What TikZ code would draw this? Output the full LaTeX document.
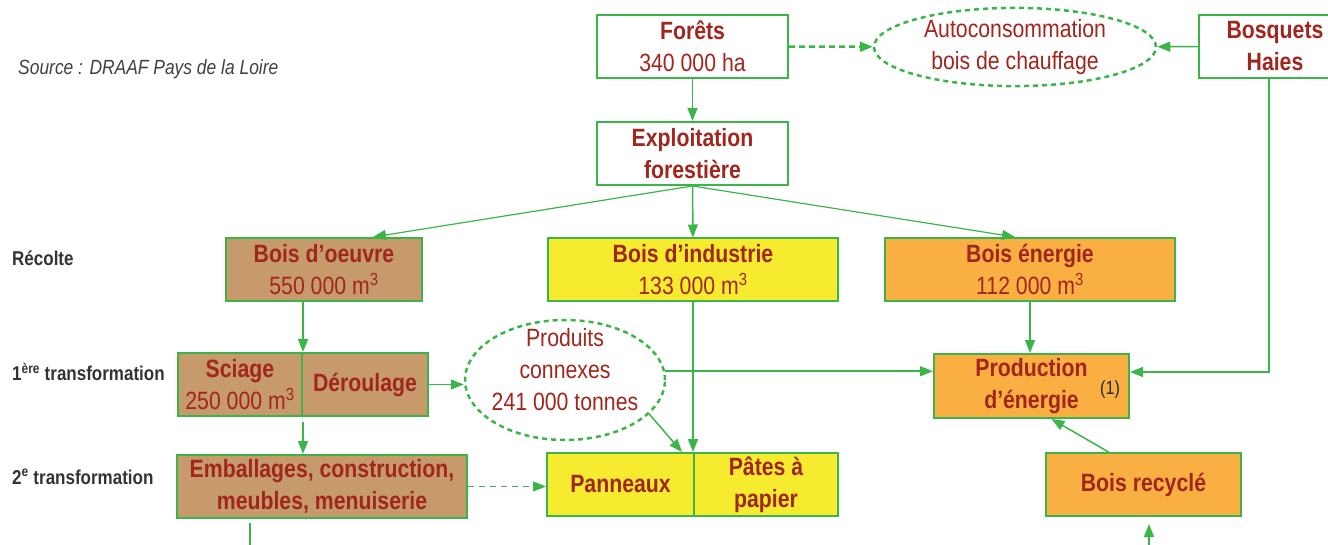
\documentclass[tikz,border=0pt]{standalone}
\usepackage{fontspec}
\setmainfont{Liberation Sans}[FakeStretch=0.85]
\usetikzlibrary{arrows.meta,shapes.geometric}
\definecolor{vert}{HTML}{3BB54A}
\definecolor{brique}{HTML}{A1261D}
\definecolor{bois}{HTML}{C69A6B}
\definecolor{jaune}{HTML}{F7EB2F}
\definecolor{orangeE}{HTML}{F9AF41}
\def\Gros{\fontsize{25}{32}\selectfont}

\begin{document}
\begin{tikzpicture}[x=1pt,y=-1pt,
  boite/.style={draw=vert,line width=2pt,inner sep=0pt,align=center,text=brique,minimum height=63pt,font=\Gros},
  bulle/.style={ellipse,draw=vert,line width=2.5pt,dash pattern=on 5pt off 4pt,inner sep=0pt,align=center,text=brique,font=\Gros},
  etape/.style={anchor=west,inner sep=0pt,text=black!80,font=\fontsize{20}{24}\selectfont\bfseries},
  fl/.style={draw=vert,line width=1.5pt,-{Triangle[length=13pt,width=10pt]}}]
\useasboundingbox (0,0) rectangle (1328,545);
% legende a gauche
\node[anchor=west,inner sep=0pt,text=black!75,font=\fontsize{20.5}{25}\selectfont\itshape] (source) at (18,69) {Source : DRAAF Pays de la Loire};
\node[etape] (recolte) at (12,258) {Récolte};
\node[etape] (trans1) at (12,372) {1\textsuperscript{ère} transformation};
\node[etape] (trans2) at (12,477) {2\textsuperscript{e} transformation};
% haut
\node[boite,minimum width=191pt] (foret) at (692.5,46.5) {\textbf{Forêts}\\340 000 ha};
\node[bulle,minimum width=282pt,minimum height=70pt] (auto) at (1015,47) {Autoconsommation\\bois de chauffage};
\node[boite,minimum width=152pt] (bosq) at (1275,46.5) {\textbf{Bosquets}\\\textbf{Haies}};
\node[boite,minimum width=191pt] (exploit) at (692.5,153.5) {\textbf{Exploitation}\\\textbf{forestière}};
% recolte
\node[boite,fill=bois,minimum width=196pt] (oeuvre) at (324,269.5) {\textbf{Bois d’oeuvre}\\550 000 m\textsuperscript{3}};
\node[boite,fill=jaune,minimum width=290pt] (indus) at (693,270) {\textbf{Bois d’industrie}\\133 000 m\textsuperscript{3}};
\node[boite,fill=orangeE,minimum width=290pt] (energie) at (1030,269.5) {\textbf{Bois énergie}\\112 000 m\textsuperscript{3}};
% 1ere transformation
\node[boite,fill=bois,minimum width=124pt] (sciage) at (240,384.5) {\textbf{Sciage}\\250 000 m\textsuperscript{3}};
\node[boite,fill=bois,minimum width=126pt] (deroul) at (365,384.5) {\textbf{Déroulage}};
\node[bulle,minimum width=200pt,minimum height=120pt] (connexes) at (565,380) {};
\node[align=center,inner sep=0pt,text=brique,font=\Gros] (connexesTxt) at (565,370) {Produits\\connexes\\241 000 tonnes};
\node[boite,fill=orangeE,minimum width=195pt,minimum height=64pt] (prod) at (1031.5,386) {\textbf{Production}\\\textbf{d’énergie}};
\node[text=black!85,inner sep=0pt,font=\fontsize{19}{22}\selectfont] (renvoi) at (1110,390) {(1)};
% 2e transformation
\node[boite,fill=bois,minimum width=290pt] (emball) at (322,486.5) {\textbf{Emballages, construction,}\\\textbf{meubles, menuiserie}};
\node[boite,fill=jaune,minimum width=147pt] (pann) at (620.5,484.5) {\textbf{Panneaux}};
\node[boite,fill=jaune,minimum width=144pt] (pates) at (766,484.5) {\textbf{Pâtes à}\\\textbf{papier}};
\node[boite,fill=orangeE,minimum width=195pt] (recy) at (1143.5,484.5) {\textbf{Bois recyclé}};
\coordinate (bas) at (1149,545);
\coordinate (fin) at (250,545);
% fleches
\draw[fl] (foret) -- (exploit);
\draw[fl,line width=2.5pt,dash pattern=on 6pt off 4pt] (foret) -- (auto);
\draw[fl] (bosq) -- (auto);
\draw[fl,line width=1.2pt] (exploit.south) -- ([xshift=49pt]oeuvre.north);
\draw[fl] (exploit) -- (indus);
\draw[fl,line width=1.2pt] (exploit.south) -- ([xshift=-15pt]energie.north);
\draw[fl] (oeuvre.south -| sciage.north east) -- (sciage.north east);
\draw[fl,shorten <=5pt] (sciage.south east) -- (sciage.south east |- emball.north);
\draw[fl] (deroul.east) -- (deroul.east -| connexes.west);
\draw[fl] (connexes.5) -- (connexes.5 -| prod.west);
\draw[fl] (indus.south -| pates.north west) -- (pates.north west);
\draw[fl] (connexes.-22) -- ([xshift=-11pt]pates.north west);
\draw[fl,line width=1pt,dash pattern=on 6pt off 5pt] (emball.east) -- (emball.east -| pann.west);
\draw[fl] (energie.south) -- (energie.south |- prod.north);
\draw[fl] ([xshift=-6pt]bosq.south) |- ([yshift=14pt]prod.east);
\draw[fl] ([xshift=-35pt]recy.north) -- ([xshift=20pt]prod.south);
\draw[fl] (bas) -- ([xshift=5.5pt,yshift=-7pt]recy.south);
\draw[vert,line width=1.5pt] ([yshift=-4pt]emball.south -| fin) -- (fin);
\end{tikzpicture}
\end{document}
